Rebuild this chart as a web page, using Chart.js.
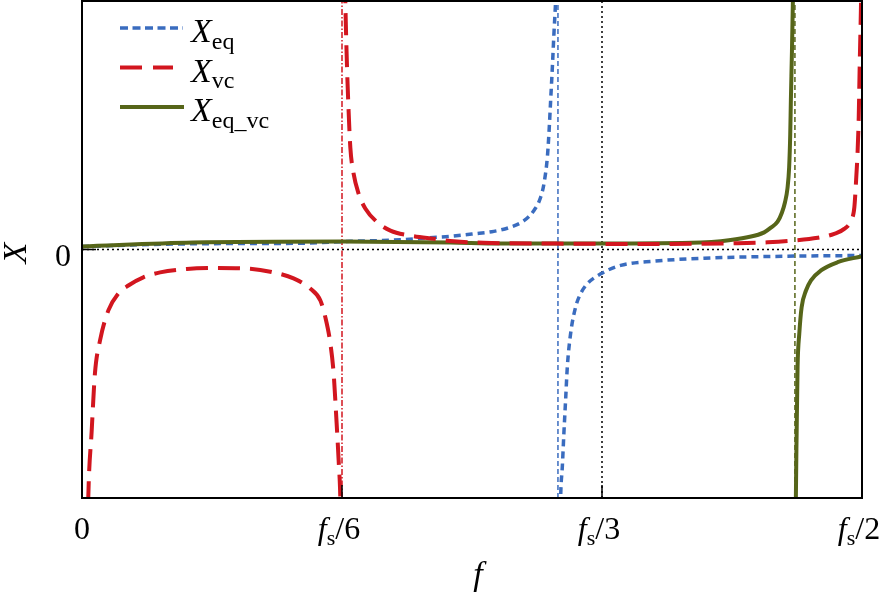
<!DOCTYPE html>
<html>
<head>
<meta charset="utf-8">
<script src="https://cdn.jsdelivr.net/npm/chart.js@4/dist/chart.umd.min.js"></script>
<style>
html, body { margin: 0; padding: 0; background: #fff; }
canvas { display: block; }
</style>
</head>
<body>
<canvas id="myChart" width="883" height="593"></canvas>
<script>
// f in units of fs, X in arbitrary units (0 in the middle, +-10 at the frame)
var eqF1 = [0, 0.0436, 0.095, 0.1399, 0.172, 0.2041, 0.2212, 0.2362, 0.2512, 0.264, 0.2747, 0.2833, 0.2897, 0.294, 0.2961, 0.2983, 0.2993, 0.3004, 0.3015, 0.3025, 0.3036, 0.3041];
var eqX1 = [0.12, 0.20, 0.24, 0.25, 0.33, 0.39, 0.47, 0.53, 0.63, 0.73, 0.90, 1.16, 1.57, 2.10, 2.64, 3.71, 4.65, 5.98, 7.32, 8.66, 10, 10.8];
var eqF2 = [0.3065, 0.3068, 0.3079, 0.3089, 0.31, 0.3111, 0.3132, 0.3164, 0.3196, 0.3239, 0.3325, 0.3453, 0.3667, 0.3988, 0.4523, 0.4994];
var eqX2 = [-11.3, -10.05, -8.74, -7.40, -6.06, -4.73, -3.39, -2.32, -1.78, -1.38, -0.98, -0.64, -0.47, -0.35, -0.27, -0.24];

var vcF1 = [0.0036, 0.004, 0.0062, 0.0083, 0.0116, 0.0169, 0.0233, 0.0297, 0.0393, 0.0501, 0.0672, 0.0865, 0.1078, 0.1228, 0.1356, 0.1463, 0.1528, 0.156, 0.1592, 0.1613, 0.163, 0.1645, 0.1656, 0.166];
var vcX1 = [-11.5, -10.04, -7.31, -4.98, -3.65, -2.45, -1.77, -1.45, -1.12, -0.92, -0.78, -0.74, -0.77, -0.92, -1.16, -1.57, -2.05, -2.73, -3.78, -4.98, -6.75, -8.47, -10.04, -11.5];
var vcF2 = [0.1686, 0.1688, 0.1699, 0.1709, 0.172, 0.1741, 0.1773, 0.1816, 0.1892, 0.1977, 0.2105, 0.2255, 0.2383, 0.2574, 0.3004, 0.3646, 0.3967, 0.4178, 0.4395, 0.4564, 0.4716, 0.4822, 0.4886, 0.4929, 0.4951, 0.4961, 0.4972, 0.4979, 0.4985, 0.4994, 0.4996];
var vcX2 = [10.8, 10, 7.31, 5.58, 4.11, 3.05, 2.25, 1.65, 1.10, 0.76, 0.56, 0.43, 0.33, 0.27, 0.24, 0.22, 0.23, 0.25, 0.29, 0.36, 0.47, 0.63, 0.83, 1.16, 1.70, 2.65, 3.98, 5.31, 7.32, 10, 10.8];

var eqvcF1 = [0, 0.0712, 0.1669, 0.2362, 0.2683, 0.3325, 0.3967, 0.4095, 0.4266, 0.4373, 0.4416, 0.4459, 0.4487, 0.4506, 0.4522, 0.4533, 0.454, 0.4544, 0.4551, 0.4557, 0.456];
var eqvcX1 = [0.12, 0.28, 0.32, 0.28, 0.24, 0.24, 0.28, 0.33, 0.49, 0.69, 0.88, 1.12, 1.49, 1.89, 2.45, 3.31, 4.65, 5.98, 7.99, 10, 10.8];
var eqvcF2 = [0.4575, 0.4576, 0.4581, 0.4587, 0.4598, 0.4613, 0.4641, 0.4673, 0.4737, 0.4844, 0.4994];
var eqvcX2 = [-11.3, -10.05, -7.40, -4.73, -3.39, -2.32, -1.65, -1.24, -0.84, -0.51, -0.28];

// resonance positions (fs units)
var eqPole = 0.3051;
var eqvcPole = 0.457;

var xTicks = [0, 1/6, 1/3, 1/2];
// '*' = italic, '_' = subscript
var xTickLabels = [['0'], ['*f', '_s', '/6'], ['*f', '_s', '/3'], ['*f', '_s', '/2']];
var legendNames = [['*X', '_eq'], ['*X', '_vc'], ['*X', '_eq_vc']];

var blue = '#3a6cbf';
var red = '#d2161f';
var olive = '#566519';
var serif = '"Liberation Serif", "Times New Roman", serif';

function pts(fs, xs) {
    return fs.map(function (f, i) { return { x: f, y: xs[i] }; });
}
function twoParts(f1, x1, f2, x2) {
    return pts(f1, x1).concat([{ x: (f1[f1.length - 1] + f2[0]) / 2, y: null }], pts(f2, x2));
}
function vline(v) { return [{ x: v, y: -10 }, { x: v, y: 10 }]; }

function curve(data, color, width, dash) {
    return {
        data: data, borderColor: color, borderWidth: width, borderDash: dash,
        pointRadius: 0, fill: false, cubicInterpolationMode: 'monotone', spanGaps: false
    };
}
function guide(data, color, dash) {
    return { data: data, borderColor: color, borderWidth: 1.5, borderDash: dash, pointRadius: 0, fill: false, tension: 0 };
}

function drawRich(ctx, parts, x, y, size, align) {
    var items = parts.map(function (p) {
        var it = { t: p, font: size + 'px ' + serif, dy: 0 };
        if (p[0] === '*') { it.t = p.slice(1); it.font = 'italic ' + size + 'px ' + serif; }
        else if (p[0] === '_') { it.t = p.slice(1); it.font = Math.round(size * 0.7) + 'px ' + serif; it.dy = size * 0.2; }
        ctx.font = it.font;
        it.w = ctx.measureText(it.t).width;
        return it;
    });
    var total = items.reduce(function (s, it) { return s + it.w; }, 0);
    var cx = align === 'center' ? x - total / 2 : x;
    ctx.textAlign = 'left';
    ctx.textBaseline = 'alphabetic';
    items.forEach(function (it) {
        ctx.font = it.font;
        ctx.fillText(it.t, cx, y + it.dy);
        cx += it.w;
    });
}

var decor = {
    id: 'decor',
    afterDatasetsDraw: function (chart) {
        var ctx = chart.ctx, a = chart.chartArea;
        var xs = chart.scales.x, ys = chart.scales.y;
        ctx.save();
        ctx.fillStyle = '#000';
        ctx.strokeStyle = '#000';

        // frame
        ctx.lineWidth = 2;
        ctx.strokeRect(a.left, a.top, a.right - a.left, a.bottom - a.top);

        // inner ticks
        ctx.lineWidth = 1.5;
        ctx.beginPath();
        xTicks.forEach(function (t) {
            var px = xs.getPixelForValue(t);
            ctx.moveTo(px, a.bottom); ctx.lineTo(px, a.bottom - 13);
        });
        var y0 = ys.getPixelForValue(0);
        ctx.moveTo(a.left, y0); ctx.lineTo(a.left + 14, y0);
        ctx.stroke();

        // tick labels
        xTicks.forEach(function (t, i) {
            drawRich(ctx, xTickLabels[i], xs.getPixelForValue(t) - (i === 0 ? 0 : 3), a.bottom + 41, 32, 'center');
        });
        ctx.font = '32px ' + serif;
        ctx.textAlign = 'right';
        ctx.textBaseline = 'alphabetic';
        ctx.fillText('0', a.left - 11, y0 + 16);

        // axis titles
        drawRich(ctx, ['*f'], (a.left + a.right) / 2 + 6, 585, 34, 'center');
        ctx.save();
        ctx.translate(17, 253);
        ctx.rotate(-Math.PI / 2);
        ctx.font = 'italic 34px ' + serif;
        ctx.textAlign = 'center';
        ctx.textBaseline = 'middle';
        ctx.fillText('X', 0, 0);
        ctx.restore();

        // legend
        var styles = [[blue, 3.5, [8, 4.5]], [red, 4, [22, 11]], [olive, 4, []]];
        var lens = [63, 53, 64];
        legendNames.forEach(function (name, i) {
            var ly = 28 + i * 39.5;
            ctx.strokeStyle = styles[i][0];
            ctx.lineWidth = styles[i][1];
            ctx.setLineDash(styles[i][2]);
            ctx.beginPath();
            ctx.moveTo(120, ly); ctx.lineTo(120 + lens[i], ly);
            ctx.stroke();
            ctx.setLineDash([]);
            ctx.fillStyle = '#000';
            drawRich(ctx, name, 191, ly + 14, 34, 'left');
        });
        ctx.restore();
    }
};

new Chart(document.getElementById('myChart'), {
    type: 'line',
    data: {
        datasets: [
            curve(twoParts(vcF1, vcX1, vcF2, vcX2), red, 4, [22, 10]),
            curve(twoParts(eqvcF1, eqvcX1, eqvcF2, eqvcX2), olive, 4, []),
            curve(twoParts(eqF1, eqX1, eqF2, eqX2), blue, 3.5, [7, 5]),
            guide([{ x: 0, y: 0 }, { x: 0.5, y: 0 }], '#000', [2, 3]),
            guide(vline(1 / 3), '#000', [2, 3]),
            guide(vline(1 / 6), red, [6, 2, 1.5, 2]),
            guide(vline(eqPole), blue, [5, 3]),
            guide(vline(eqvcPole), olive, [5, 3])
        ]
    },
    options: {
        responsive: false,
        animation: false,
        layout: { padding: { left: 82, top: 1, right: 21, bottom: 95 } },
        plugins: { legend: { display: false }, tooltip: { enabled: false } },
        scales: {
            x: { type: 'linear', min: 0, max: 0.5, display: false },
            y: { type: 'linear', min: -10, max: 10, display: false }
        }
    },
    plugins: [decor]
});
</script>
</body>
</html>
